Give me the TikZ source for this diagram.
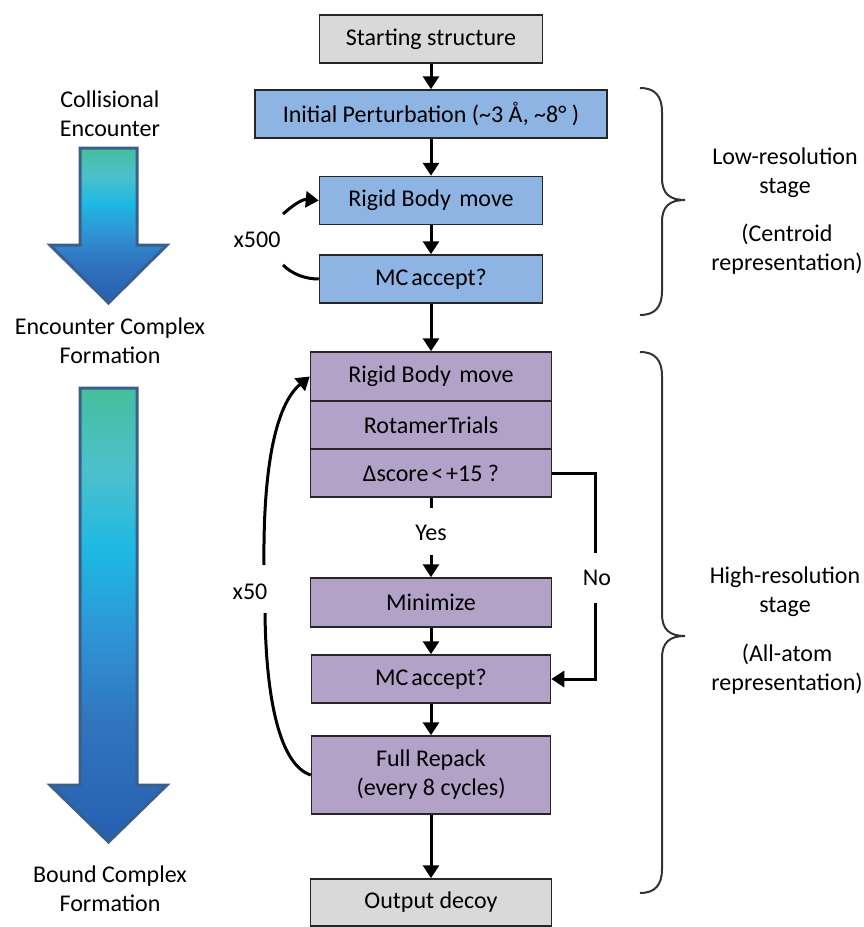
\documentclass[tikz,border=0pt]{standalone}
\usepackage{fontspec}
\setmainfont{Carlito}
\usetikzlibrary{arrows.meta}
\definecolor{boxblue}{HTML}{8EB4E3}
\definecolor{boxpurple}{HTML}{B3A2C7}
\definecolor{boxgray}{HTML}{D9D9D9}
\definecolor{edgec}{HTML}{262626}
\definecolor{agreen}{HTML}{43BF9C}
\definecolor{ateal}{HTML}{4CC0CC}
\definecolor{acyan}{HTML}{1DB8E3}
\definecolor{amid}{HTML}{2F95D6}
\definecolor{adeep}{HTML}{3174BE}
\definecolor{ablue}{HTML}{2560B0}
\definecolor{aout}{HTML}{3A5F8B}
\definecolor{bracec}{HTML}{333333}
\pgfdeclareverticalshading{arrowgrad}{100bp}{color(0bp)=(ablue); color(25bp)=(ablue); color(38bp)=(adeep); color(48bp)=(amid); color(57bp)=(acyan); color(66bp)=(ateal); color(75bp)=(agreen); color(100bp)=(agreen)}
\begin{document}
\begin{tikzpicture}[x=1pt,y=-1pt,
  every node/.style={font=\fontsize{24}{29}\selectfont},
  box/.style={draw=edgec, line width=1.5pt, minimum height=48pt, inner sep=0pt, align=center},
  bluebox/.style={box, fill=boxblue, minimum width=223pt},
  purplebox/.style={box, fill=boxpurple, minimum width=241pt},
  graybox/.style={box, fill=boxgray},
  flow/.style={line width=3pt, -{Triangle[width=16pt,length=13pt]}},
  plainline/.style={line width=3pt},
  bigarrow/.style={draw=aout, line width=3pt, line join=miter, shading=arrowgrad},
  bracestyle/.style={draw=bracec, line width=2pt},
  lbl/.style={align=center, inner sep=0pt}]
\useasboundingbox (0,0) rectangle (863,927);

% flow boxes
\node[graybox, minimum width=223pt] (start) at (431,39) {Starting structure};
\node[bluebox, minimum width=352pt] (init) at (431,114) {Initial Perturbation (\textasciitilde3 Å, \textasciitilde8° )};
\node[bluebox] (rb1) at (431,200.5) {Rigid Body\hspace{0.35em}move};
\node[bluebox] (mc1) at (431,279) {MC\hspace{0.12em}accept?};
\node[purplebox, minimum height=49pt] (rb2) at (431,376.5) {Rigid Body\hspace{0.35em}move};
\node[purplebox] (rot) at (431,425) {RotamerTrials};
\node[purplebox] (dsc) at (431,473) {Δscore\hspace{0.12em}<\hspace{0.12em}+15 ?};
\node[purplebox, minimum height=49pt] (mini) at (431,602.5) {Minimize};
\node[purplebox, minimum width=239pt] (mc2) at (431,679) {MC\hspace{0.12em}accept?};
\node[purplebox, minimum width=239pt, minimum height=78pt] (fr) at (431,775) {Full Repack\\(every 8 cycles)};
\node[graybox, minimum width=241pt, minimum height=47pt] (out) at (431,902.5) {Output decoy};

% connectors
\draw[flow] (start) -- (init);
\draw[flow] (init) -- (rb1);
\draw[flow] (rb1) -- (mc1);
\draw[flow] (mc1) -- (rb2);
\draw[flow] (mc2) -- (fr);
\draw[flow] (mini) -- (mc2);
\draw[flow] (fr) -- (out);

\coordinate (yesA) at (431,508);
\coordinate (yesB) at (431,555);
\draw[plainline] (dsc.south) -- (yesA);
\draw[flow] (yesB) -- (mini.north);
\node[lbl] (yes) at (431,533) {Yes};

\coordinate (noA) at (595,473);
\coordinate (noB) at (595,553);
\coordinate (noC) at (595,603);
\coordinate (noD) at (595,679);
\draw[plainline] (dsc.east) -- (noA) -- (noB);
\draw[flow] (noC) -- (noD) -- (mc2.east);
\node[lbl] (no) at (597,578) {No};

% x500 loop
\coordinate (l5a) at (283,265);
\coordinate (l5b) at (283,214);
\draw[plainline] (mc1.west) .. controls (305,279) and (292,274) .. (l5a);
\draw[flow] (l5b) .. controls (292,206) and (302,199) .. (rb1.west);
\node[lbl] (x500) at (257,240) {x500};

% x50 loop
\coordinate (l50a) at (265,613);
\coordinate (l50b) at (264,565);
\draw[plainline] (fr.west) .. controls (280,765) and (266,700) .. (l50a);
\draw[flow] (l50b) .. controls (263,470) and (275,405) .. (rb2.west);
\node[lbl] (x50) at (250,592) {x50};

% braces
\draw[bracestyle] (640,88) .. controls (655,88) and (662,96) .. (662,112) -- (662,178)
  .. controls (662,194) and (670,200) .. (685,200)
  .. controls (670,200) and (662,206) .. (662,222) -- (662,291)
  .. controls (662,307) and (655,315) .. (640,315);
\draw[bracestyle] (640,352) .. controls (655,352) and (662,360) .. (662,376) -- (662,614)
  .. controls (662,630) and (670,636) .. (685,636)
  .. controls (670,636) and (662,642) .. (662,658) -- (662,869)
  .. controls (662,885) and (655,893) .. (640,893);

\node[lbl] (lowres) at (785,173) {Low-resolution\\stage};
\node[lbl] (centroid) at (787,249) {(Centroid\\representation)};
\node[lbl] (highres) at (785,592) {High-resolution\\stage};
\node[lbl] (allatom) at (787,669) {(All-atom\\representation)};

% left gradient arrows
\path[bigarrow] (80,148) -- (137,148) -- (137,245) -- (167,245) -- (108.5,303) -- (50,245) -- (80,245) -- cycle;
\path[bigarrow] (80,388) -- (137,388) -- (137,785) -- (167,785) -- (108.5,842) -- (50,785) -- (80,785) -- cycle;

\node[lbl] (coll) at (110,114) {Collisional\\Encounter};
\node[lbl] (enc) at (110,341) {Encounter Complex\\Formation};
\node[lbl] (bound) at (110,889) {Bound Complex\\Formation};
\end{tikzpicture}
\end{document}
